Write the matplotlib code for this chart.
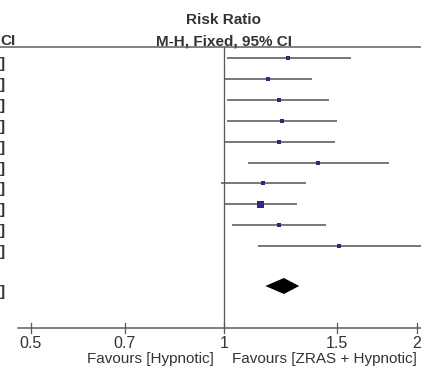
import numpy as np
import matplotlib
matplotlib.use("Agg")
import matplotlib.pyplot as plt

plt.rcParams['font.family'] = ['Liberation Sans', 'DejaVu Sans']

# Study-level risk ratios (M-H, fixed, 95% CI)
ratio = [1.26, 1.17, 1.22, 1.23, 1.22, 1.40, 1.15, 1.14, 1.22, 1.51]
lower = [1.01, 1.00, 1.01, 1.01, 1.00, 1.09, 0.99, 1.00, 1.03, 1.13]
upper = [1.58, 1.37, 1.46, 1.50, 1.49, 1.81, 1.34, 1.30, 1.44, 2.05]
weight = [5, 5, 5, 5, 5, 5, 5, 7, 5, 4]   # relative square size
total_ratio, total_lower, total_upper = 1.24, 1.16, 1.31

tick_values = [0.5, 0.7, 1, 1.5, 2]
tick_labels = ["0.5", "0.7", "1", "1.5", "2"]
left_label = "Favours [Hypnotic]"
right_label = "Favours [ZRAS + Hypnotic]"

W, H, DPI = 421, 373, 100
fig = plt.figure(figsize=(W / DPI, H / DPI), dpi=DPI)
ax = fig.add_axes([0, 0, 1, 1])
ax.set_xscale('log')
# map: 1 -> px 224, 278.5 px per ln-unit
px0, k = 224.0, 278.5
def px(x):
    return np.exp((x - px0) / k)
ax.set_xlim(px(0), px(W))
ax.set_ylim(H, 0)
ax.axis('off')

pt = 72.0 / DPI
line_col = '#5a5a5a'
text_col = '#333333'
sq_col = '#2b2b82'
fs = 11

# header
ax.text(1.0, 20, "Risk Ratio", ha='center', va='center', fontsize=fs, fontweight='bold', color=text_col)
ax.text(1.0, 41, "M-H, Fixed, 95% CI", ha='center', va='center', fontsize=fs, fontweight='bold', color=text_col)
ax.text(px(0), 41, "CI", ha='left', va='center', fontsize=fs, fontweight='bold', color=text_col)
ax.plot([px(0), px(W)], [47, 47], color=line_col, lw=1.5 * pt, solid_capstyle='butt')

# vertical line of no effect
ax.plot([1, 1], [47, 328], color=line_col, lw=1.3 * pt)

# rows
y0, dy = 58.0, 20.9
for i in range(len(ratio)):
    y = y0 + i * dy
    ax.plot([lower[i], upper[i]], [y, y], color=line_col, lw=1.6 * pt, solid_capstyle='butt', clip_on=True)
    ax.plot([ratio[i]], [y], marker='s', color=sq_col, markersize=weight[i] * pt, markeredgewidth=0)
    ax.text(px(0), y + 6, "]", ha='left', va='center', fontsize=fs, fontweight='bold', color=text_col)

# total diamond
yt = 286
ax.fill([total_lower, total_ratio, total_upper, total_ratio], [yt, yt - 8, yt, yt + 8], color='black', lw=0)
ax.text(px(0), yt + 6, "]", ha='left', va='center', fontsize=fs, fontweight='bold', color=text_col)

# x axis
ya = 328
ax.plot([px(18), px(W)], [ya, ya], color=line_col, lw=1.5 * pt)
for v, lab in zip(tick_values, tick_labels):
    ax.plot([v, v], [ya - 5, ya + 5], color=line_col, lw=1.3 * pt)
    ax.text(v, ya + 16, lab, ha='center', va='center', fontsize=11.5, color=text_col)

ax.text(px(214), ya + 31, left_label, ha='right', va='center', fontsize=fs, color=text_col)
ax.text(px(232), ya + 31, right_label, ha='left', va='center', fontsize=fs, color=text_col)

fig.savefig("out.png", dpi=DPI)
